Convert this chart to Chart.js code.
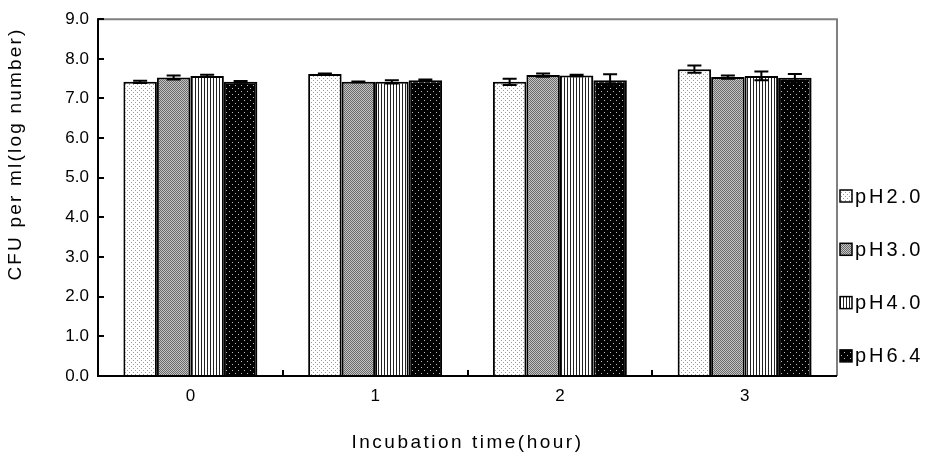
<!DOCTYPE html>
<html lang="en">
<head>
<meta charset="UTF-8" />
<title>CFU per ml by pH</title>
<style>
  html, body { margin: 0; padding: 0; background: #fff; }
  #wrap { width: 941px; height: 464px; position: relative; }
</style>
</head>
<body>
<div id="wrap"><canvas id="chart"></canvas></div>
<script src="https://cdn.jsdelivr.net/npm/chart.js"></script>
<script>
// data
const hours = ['0', '1', '2', '3'];
const seriesNames = ['pH2.0', 'pH3.0', 'pH4.0', 'pH6.4'];
const ph20 = [7.42, 7.62, 7.42, 7.74];
const ph30 = [7.53, 7.42, 7.59, 7.54];
const ph40 = [7.57, 7.42, 7.58, 7.57];
const ph64 = [7.42, 7.46, 7.46, 7.52];
const err20 = [0.03, 0.01, 0.08, 0.09];
const err30 = [0.05, 0.01, 0.04, 0.04];
const err40 = [0.03, 0.04, 0.02, 0.11];
const err64 = [0.02, 0.02, 0.15, 0.10];
const yTicks = [0, 1, 2, 3, 4, 5, 6, 7, 8, 9];
const xTitle = 'Incubation time(hour)';
const yTitle = 'CFU per ml(log number)';

const FONT = 'Arial, "Liberation Sans", sans-serif';

// small fill patterns like the old b/w excel chart
function makePattern(w, h, bg, px) {
  const c = document.createElement('canvas');
  c.width = w; c.height = h;
  const g = c.getContext('2d');
  g.fillStyle = bg;
  g.fillRect(0, 0, w, h);
  px.forEach(p => {
    g.fillStyle = p[2];
    g.fillRect(p[0], p[1], p[3] || 1, p[4] || 1);
  });
  return g.createPattern(c, 'repeat');
}

const patterns = [
  makePattern(4, 4, '#ffffff', [[1, 0, '#9a9a9a'], [3, 2, '#9a9a9a']]),
  makePattern(2, 2, '#6a6a6a', [[1, 0, '#c4c4c4'], [0, 1, '#c4c4c4']]),
  makePattern(3, 1, '#ffffff', [[0, 0, '#222222']]),
  makePattern(6, 6, '#000000', [[1, 1, '#bdbdbd'], [4, 4, '#bdbdbd']])
];

const values = [ph20, ph30, ph40, ph64];
const errors = [err20, err30, err40, err64];

const datasets = seriesNames.map((name, i) => ({
  label: name,
  data: values[i],
  errors: errors[i],
  backgroundColor: patterns[i],
  borderColor: '#000',
  borderWidth: 2,
  borderSkipped: 'start',
  categoryPercentage: 0.725,
  barPercentage: 1.0
}));

// error bars from the y scale
const errorBars = {
  id: 'errorBars',
  afterDatasetsDraw(chart) {
    const ctx = chart.ctx;
    const y = chart.scales.y;
    ctx.save();
    ctx.strokeStyle = '#000';
    ctx.lineWidth = 2;
    chart.data.datasets.forEach((ds, i) => {
      chart.getDatasetMeta(i).data.forEach((bar, j) => {
        const v = ds.data[j], e = ds.errors[j];
        const top = y.getPixelForValue(v + e);
        const bot = y.getPixelForValue(v - e);
        const cap = 7;
        ctx.beginPath();
        ctx.moveTo(bar.x, top); ctx.lineTo(bar.x, bot);
        ctx.moveTo(bar.x - cap, top); ctx.lineTo(bar.x + cap, top);
        ctx.moveTo(bar.x - cap, bot); ctx.lineTo(bar.x + cap, bot);
        ctx.stroke();
      });
    });
    ctx.restore();
  }
};

// frame, inward ticks, titles, legend
const decor = {
  id: 'decor',
  afterDraw(chart) {
    const ctx = chart.ctx;
    const a = chart.chartArea;
    const x = chart.scales.x, y = chart.scales.y;
    ctx.save();
    // gray top/right frame
    ctx.strokeStyle = '#808080';
    ctx.lineWidth = 2;
    ctx.beginPath();
    ctx.moveTo(a.left, a.top); ctx.lineTo(a.right, a.top); ctx.lineTo(a.right, a.bottom);
    ctx.stroke();
    // black axes
    ctx.strokeStyle = '#000';
    ctx.beginPath();
    ctx.moveTo(a.left, a.top - 1); ctx.lineTo(a.left, a.bottom);
    ctx.lineTo(a.right, a.bottom);
    ctx.stroke();
    // y ticks pointing in
    yTicks.forEach(t => {
      const py = Math.round(y.getPixelForValue(t));
      ctx.beginPath();
      ctx.moveTo(a.left, py); ctx.lineTo(a.left + 6, py);
      ctx.stroke();
    });
    // x ticks between groups
    for (let i = 1; i < hours.length; i++) {
      const px = Math.round((x.getPixelForValue(i - 1) + x.getPixelForValue(i)) / 2);
      ctx.beginPath();
      ctx.moveTo(px, a.bottom); ctx.lineTo(px, a.bottom - 6);
      ctx.stroke();
    }
    // axis titles
    ctx.fillStyle = '#000';
    ctx.letterSpacing = '2.5px';
    ctx.font = '19px ' + FONT;
    ctx.textAlign = 'center';
    ctx.textBaseline = 'middle';
    ctx.fillText(xTitle, (a.left + a.right) / 2, 443);
    ctx.letterSpacing = '2.2px';
    ctx.translate(16, 154);
    ctx.rotate(-Math.PI / 2);
    ctx.fillText(yTitle, 0, 0);
    ctx.restore();

    // legend
    ctx.save();
    ctx.font = '20px ' + FONT;
    ctx.letterSpacing = '3px';
    ctx.textAlign = 'left';
    ctx.textBaseline = 'middle';
    chart.data.datasets.forEach((ds, i) => {
      const cy = 196 + i * 53.3;
      ctx.fillStyle = ds.backgroundColor;
      ctx.fillRect(840, cy - 6, 12, 12);
      ctx.strokeStyle = '#000';
      ctx.lineWidth = 1.5;
      ctx.strokeRect(840, cy - 6, 12, 12);
      ctx.fillStyle = '#000';
      ctx.fillText(ds.label, 855, cy + 1);
    });
    ctx.restore();
  }
};

new Chart(document.getElementById('chart'), {
  type: 'bar',
  data: { labels: hours, datasets: datasets },
  options: {
    responsive: true,
    maintainAspectRatio: false,
    animation: false,
    layout: { padding: { top: 14, right: 104, bottom: 0, left: 0 } },
    plugins: {
      legend: { display: false },
      tooltip: { enabled: false }
    },
    scales: {
      x: {
        offset: true,
        grid: { display: false, drawTicks: false },
        border: { display: false },
        ticks: { color: '#000', font: { size: 17, family: FONT }, padding: 10 },
        afterFit(s) { s.height = 88; }
      },
      y: {
        min: 0,
        max: 9,
        afterBuildTicks(s) { s.ticks = yTicks.map(v => ({ value: v })); },
        grid: { display: false, drawTicks: false },
        border: { display: false },
        ticks: {
          color: '#000',
          font: { size: 17, family: FONT },
          padding: 9,
          callback: v => v.toFixed(1)
        },
        afterFit(s) { s.width = 98; }
      }
    }
  },
  plugins: [errorBars, decor]
});
</script>
</body>
</html>
